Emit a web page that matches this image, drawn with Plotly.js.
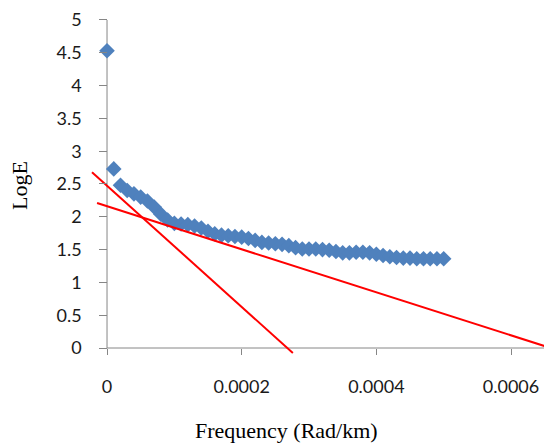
<!DOCTYPE html>
<html>
<head>
<meta charset="utf-8">
<script src="https://cdn.plot.ly/plotly-3.0.1.min.js"></script>
<style>html,body{margin:0;padding:0;background:#fff;}#chart{width:544px;height:445px;}</style>
</head>
<body>
<div id="chart"></div>
<script>
// Data
const frequency = [0,0.00001,0.00002,0.00003,0.00004,0.00005,0.00006,0.00007,0.00008,0.00009,
  0.0001,0.00011,0.00012,0.00013,0.00014,0.00015,0.00016,0.00017,0.00018,0.00019,
  0.0002,0.00021,0.00022,0.00023,0.00024,0.00025,0.00026,0.00027,0.00028,0.00029,
  0.0003,0.00031,0.00032,0.00033,0.00034,0.00035,0.00036,0.00037,0.00038,0.00039,
  0.0004,0.00041,0.00042,0.00043,0.00044,0.00045,0.00046,0.00047,0.00048,0.00049,0.0005];
const logE = [4.53,2.73,2.48,2.40,2.35,2.30,2.24,2.15,2.04,1.95,
  1.90,1.89,1.88,1.86,1.83,1.78,1.74,1.72,1.71,1.70,
  1.69,1.67,1.64,1.61,1.60,1.59,1.58,1.56,1.53,1.51,
  1.51,1.51,1.50,1.49,1.47,1.45,1.45,1.46,1.46,1.45,
  1.43,1.41,1.39,1.38,1.37,1.37,1.36,1.36,1.36,1.36,1.36];
// Fitted red lines (end points)
const line1X = [-0.0000223, 0.000276];
const line1Y = [2.68, -0.076];
const line2X = [-0.0000148, 0.00068];
const line2Y = [2.21, -0.07];
// Tick labels
const xTickVals = [0, 0.0002, 0.0004, 0.0006];
const xTickText = ["0", "0.0002", "0.0004", "0.0006"];
const yTickVals = [0,0.5,1,1.5,2,2.5,3,3.5,4,4.5,5];
const yTickText = ["0","0.5","1","1.5","2","2.5","3","3.5","4","4.5","5"];

const xRange = [-0.0000238, 0.000649];
const yRange = [-0.122, 5.076];
const axisGray = '#868686';
const tickFont = {family: 'Lato, "Open Sans", sans-serif', size: 18, color: '#1a1a1a'};
const titleFont = {family: '"Liberation Serif", "Times New Roman", serif', size: 22, color: '#000'};
const pad = '\u00a0\u00a0\u00a0';

const traces = [
  {x: frequency, y: logE, type: 'scatter', mode: 'markers',
   marker: {symbol: 'diamond', size: 12, color: '#4F81BD'}, hoverinfo: 'none'},
  {x: line1X, y: line1Y, type: 'scatter', mode: 'lines', line: {color: '#FF0000', width: 2}},
  {x: line2X, y: line2Y, type: 'scatter', mode: 'lines', line: {color: '#FF0000', width: 2}}
];

const yPos = (0 - xRange[0]) / (xRange[1] - xRange[0]);
const xPos = (0 - yRange[0]) / (yRange[1] - yRange[0]);

const layout = {
  width: 544, height: 445,
  margin: {l: 91, r: 0, t: 15, b: 89},
  paper_bgcolor: '#fff', plot_bgcolor: '#fff',
  showlegend: false,
  font: tickFont,
  xaxis: {
    range: xRange, anchor: 'free', position: xPos,
    showgrid: false, zeroline: false, showline: false,
    tickmode: 'array', tickvals: xTickVals, ticktext: xTickText,
    ticks: 'outside', ticklen: 6, tickcolor: axisGray, tickwidth: 1,
    ticklabelstandoff: 16,
    tickfont: tickFont
  },
  yaxis: {
    range: yRange, anchor: 'free', position: yPos,
    showgrid: false, zeroline: false, showline: false,
    tickmode: 'array', tickvals: yTickVals, ticktext: yTickText.map(t => t + pad),
    ticks: 'outside', ticklen: 8, tickcolor: axisGray, tickwidth: 1,
    tickfont: tickFont
  },
  shapes: [
    {type: 'line', xref: 'x', yref: 'y', x0: 0, x1: 0, y0: 0, y1: 5,
     line: {color: axisGray, width: 1}, layer: 'below'},
    {type: 'line', xref: 'x', yref: 'y', x0: 0, x1: xRange[1], y0: 0, y1: 0,
     line: {color: axisGray, width: 1}, layer: 'below'}
  ],
  annotations: [
    {text: 'Frequency (Rad/km)', xref: 'paper', yref: 'paper',
     x: (286 - 91) / 453, y: (356 - 430) / 341, xanchor: 'center', yanchor: 'middle',
     showarrow: false, font: titleFont},
    {text: 'LogE', xref: 'paper', yref: 'paper', textangle: -90,
     x: (19 - 91) / 453, y: (356 - 186) / 341, xanchor: 'center', yanchor: 'middle',
     showarrow: false, font: titleFont}
  ]
};

Plotly.newPlot('chart', traces, layout, {displayModeBar: false, staticPlot: true});
</script>
</body>
</html>
